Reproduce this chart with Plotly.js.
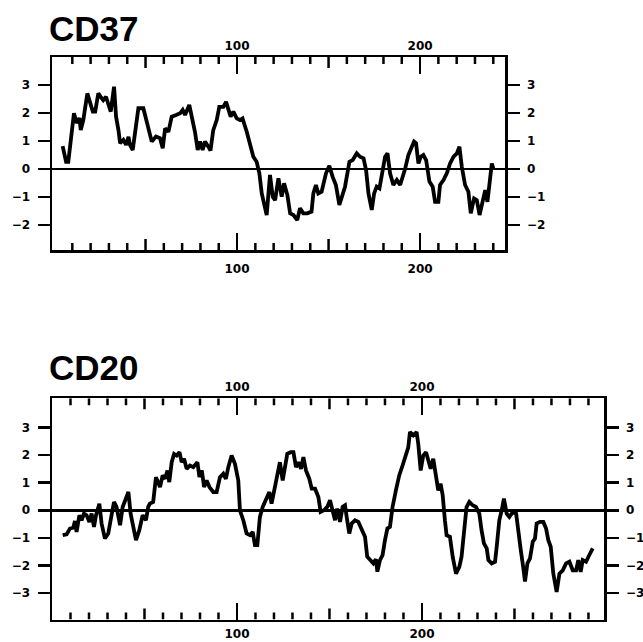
<!DOCTYPE html>
<html>
<head>
<meta charset="utf-8">
<script src="https://cdn.plot.ly/plotly-3.0.1.min.js"></script>
<style>html,body{margin:0;padding:0;background:#fff;}#chart{width:643px;height:642px;}</style>
</head>
<body>
<div id="chart"></div>
<script>
// ---- Data ----
const panelTitles = ["CD37", "CD20"];

const cd37Pos = [4.7,6.6,7.8,10.9,12.4,13.9,14.6,16,18.2,19.7,21.2,22.5,24.2,25.5,26.9,28.4,29.7,31,32.8,33.9,35.2,36.1,37.9,39.4,40.7,41.5,43,44.8,46.1,48.8,50.3,51.5,53.4,55.7,57.9,59.4,60.7,62.5,64.3,66.7,68.9,70.3,71.6,73.9,75.7,77,78.5,79.8,81.2,82.5,84.3,85.5,87,88.9,90.3,92.5,94,95.3,96.5,98,99.8,101.6,103,105.3,107.1,108.9,110.7,112.2,113.5,114.8,116.2,118,119.5,120.8,122.6,124.4,125.7,127.5,129,130.8,132.9,134.4,136.2,138.4,140.7,141.7,143.1,144.4,146.2,148.6,150.4,152.2,154,155.9,157.7,159,161.4,163.2,165.4,167.2,169.1,170.5,171.8,173.6,174.9,176.3,177.8,179.1,180.9,182.2,183.6,185.4,187.3,189.1,190.5,191.8,193.6,195.4,196.7,197.8,199.1,200.4,201.8,203.3,205.1,206.9,208.2,210,210.9,212.8,214.6,216.4,218.3,220.1,221.5,222.8,224.6,226.4,227.7,229.5,231,232.5,234.3,235.6,236.8,238.3,239.2,240.1];
const cd37Hyd = [0.82,0.26,0.26,1.99,1.64,1.82,1.39,1.75,2.70,2.35,2.05,2.05,2.70,2.58,2.46,2.58,2.29,2.05,2.94,1.87,1.39,0.92,1.04,0.86,1.15,0.86,0.68,1.51,2.17,2.17,1.75,1.51,0.98,1.16,1.10,0.74,1.45,1.33,1.87,1.93,1.99,2.11,1.93,2.29,1.81,1.33,0.68,0.98,0.68,0.98,0.80,0.66,1.39,1.75,2.22,2.22,2.40,2.05,1.87,2.05,1.81,1.75,1.81,1.33,0.92,0.44,0.26,-0.15,-0.87,-1.23,-1.64,-0.21,-0.99,-1.11,-0.33,-0.99,-0.51,-0.93,-1.58,-1.64,-1.82,-1.40,-1.58,-1.58,-1.52,-0.87,-0.57,-0.87,-0.81,-0.15,0.12,-0.27,-0.57,-1.28,-0.93,-0.63,0.26,0.32,0.56,0.44,0.38,-0.04,-0.87,-1.46,-0.87,-0.63,-0.69,-0.21,0.44,0.56,-0.15,-0.57,-0.39,-0.57,-0.27,0,0.50,0.74,0.98,0.92,0.20,0.44,0.50,0.32,-0.45,-0.63,-1.17,-1.17,-0.57,-0.39,-0.15,0.20,0.44,0.56,0.80,0.08,-0.57,-0.81,-1.58,-1.05,-1.11,-1.64,-1.11,-0.75,-1.17,-0.27,0.20,0.0];

const cd20Pos = [5.8,7.9,9.7,11.5,12.4,13.3,14.8,16,17.3,18.7,20.2,21.4,22.7,23.8,25.6,26.8,28.6,30.4,31.7,33.5,34.9,36.8,38.2,39.5,41.3,42.5,44,45.4,47.2,49,50.8,52,52.9,54.7,56.2,57.5,58.4,59.8,61.1,62.4,63.4,64.7,66,67.4,68.9,70.1,71.4,72.8,74.6,76.4,78.6,79.7,81,82.2,83.6,85.1,87.2,89,90.8,92.6,94,95.3,97.1,98.9,100.7,101.6,103.4,105.2,107,108.5,109.7,111,112.4,113.9,115.7,117.5,118.7,120.5,121.8,123.2,124.7,125.9,127.2,129,130.5,131.9,133.2,134.6,135.9,137.3,139.1,140.4,142.2,144,145.2,147,148.8,150.3,151.7,153,154.2,155.7,157.1,158.4,159.3,160.7,162,163.8,165.6,167.4,169.2,170.4,171.9,173.7,175.1,175.9,177.3,178.7,180,181.3,182.7,184.1,185.9,187.7,189.5,190.8,192.6,193.5,195.3,197.1,198,199.3,200.7,202.2,203.4,204.7,206.1,207.6,208.8,210.1,211.2,212.4,213.3,215.1,216.6,218.4,220.2,221.4,222.7,224.1,225.6,227.4,229.2,231,232.2,233.5,235,235.9,237.7,239.5,240.4,241.8,243.1,244.3,245.8,247.2,248.5,249.8,250.9,252.1,253.4,254.8,255.7,257,258.4,259.9,261.1,262,263.8,265.6,267.1,268.3,269.6,271,272.8,274.3,276.1,277.9,279.7,281.5,283.3,284.5,285.8,286.9,288.7,290,292.3];
const cd20Hyd = [-0.90,-0.87,-0.66,-0.63,-0.39,-0.78,-0.18,-0.36,-0.12,-0.18,-0.42,-0.12,-0.60,-0.18,0.24,-0.48,-1.02,-0.84,-0.36,0.30,0.12,-0.54,0.12,0.36,0.66,-0.12,-0.72,-1.08,-0.72,-0.18,-0.36,0.12,0.24,0.30,1.20,1.02,0.84,1.26,1.14,1.44,1.02,1.74,2.04,1.98,2.10,1.74,1.86,1.50,1.62,1.56,1.74,1.20,1.44,0.84,1.08,0.84,0.66,0.66,1.20,1.32,1.14,1.56,1.98,1.68,1.08,0.0,-0.36,-0.84,-0.90,-0.78,-1.26,-1.26,-0.24,0.12,0.36,0.66,0.24,0.84,1.32,1.74,1.08,1.56,2.04,2.10,2.10,1.56,1.74,1.50,1.92,1.44,1.14,0.78,0.78,0.48,-0.06,0,0.12,0.36,0,-0.36,0.06,-0.42,0.12,0.18,-0.24,-0.84,-0.48,-0.36,-0.42,-0.72,-0.96,-1.68,-1.80,-1.92,-1.77,-2.22,-1.80,-1.62,-1.08,-0.66,-0.60,0.12,0.72,1.26,1.62,1.92,2.28,2.83,2.71,2.83,2.40,1.44,1.98,2.10,1.74,1.50,1.86,1.32,0.72,0.96,0.54,-0.36,-0.90,-0.96,-1.68,-2.29,-2.05,-1.68,-0.84,0.12,0.30,0.18,0.12,-0.12,-0.72,-1.20,-1.38,-1.80,-1.92,-1.86,-1.32,-0.36,0,0.42,-0.12,-0.24,-0.12,-0.06,-0.12,-0.84,-1.44,-2.10,-2.58,-1.92,-1.74,-1.14,-1.02,-0.48,-0.42,-0.42,-0.66,-1.08,-1.32,-2.29,-2.95,-2.29,-2.17,-1.92,-1.86,-2.17,-2.17,-1.80,-2.23,-1.80,-1.86,-1.68,-1.38];

const xLabelTicks = [100, 200];
const yTicksCD37 = [-2, -1, 0, 1, 2, 3];
const yTicksCD20 = [-3, -2, -1, 0, 1, 2, 3];
const minorStep = 10, mediumStep = 50;

// ---- Layout helpers ----
const W = 643, H = 642;
const tickFont = {family: 'DejaVu Sans', size: 12, color: '#000', weight: 'bold'};
const base = {showline: true, linecolor: '#000', linewidth: 2.5, showgrid: false, zeroline: false,
  fixedrange: true, tickcolor: '#000', tickfont: tickFont};

function stepVals(maxV, step, skipStep) {
  const out = [];
  for (let v = step; v < maxV; v += step) if (!skipStep || v % skipStep !== 0) out.push(v);
  return out;
}
// x axis with long ticks + labels at 100, 200
function xAxis(domain, range, anchor, side, overlay, standoff) {
  const a = Object.assign({}, base, {range: range, anchor: anchor, side: side,
    tickmode: 'array', tickvals: xLabelTicks, ticks: 'inside', ticklen: 17, tickwidth: 2.5,
    ticklabelstandoff: standoff});
  if (overlay) a.overlaying = overlay; else a.domain = domain;
  return a;
}
function yAxis(domain, range, anchor, side, overlay, vals, zero, standoff) {
  const a = Object.assign({}, base, {range: range, anchor: anchor, side: side,
    tickmode: 'array', tickvals: vals, ticks: 'outside', ticklen: 12, tickwidth: 2.5,
    ticklabelstandoff: standoff});
  if (overlay) a.overlaying = overlay; else a.domain = domain;
  if (zero) { a.zeroline = true; a.zerolinecolor = '#000'; a.zerolinewidth = 2.5; }
  return a;
}

const dom37x = [52 / W, 505 / W], dom37y = [1 - 250 / H, 1 - 57 / H];
const dom20x = [52 / W, 604 / W], dom20y = [1 - 619.5 / H, 1 - 398.3 / H];
const r37x = [-1.1, 246.4], r37y = [-2.89, 4.0];
const r20x = [0, 298.4], r20y = [-3.95, 4.05];

// Inside tick marks along the top & bottom frame (every 10, longer every 50),
// drawn as short vertical line segments (separated by gaps) pointing inward from the frame.
function frameTicks(xr, yr, ydom, xa, ya, step, skip, len) {
  const vals = stepVals(xr[1], step, skip);
  const unitsPerPx = (yr[1] - yr[0]) / ((ydom[1] - ydom[0]) * H);
  const d = len * unitsPerPx;
  const xs = [], ys = [];
  vals.forEach(v => { xs.push(v, v, null); ys.push(yr[0], yr[0] + d, null); });
  vals.forEach(v => { xs.push(v, v, null); ys.push(yr[1], yr[1] - d, null); });
  return {x: xs, y: ys, xaxis: xa, yaxis: ya, type: 'scatter', mode: 'lines', connectgaps: false,
    line: {color: '#000', width: 2.5}, hoverinfo: 'skip', showlegend: false};
}

const mainLine = {color: '#000', width: 3.8};
function ghost(x, y, xa, ya) {
  return {x: x, y: y, xaxis: xa, yaxis: ya, type: 'scatter', mode: 'lines',
    line: {color: 'rgba(0,0,0,0)', width: 1}, hoverinfo: 'skip', showlegend: false};
}

const traces = [
  frameTicks(r37x, r37y, dom37y, 'x', 'y', minorStep, mediumStep, 7),
  frameTicks(r37x, r37y, dom37y, 'x', 'y', mediumStep, 100, 11),
  {x: cd37Pos, y: cd37Hyd, xaxis: 'x', yaxis: 'y', type: 'scatter', mode: 'lines', line: mainLine, showlegend: false},
  ghost(cd37Pos, cd37Hyd, 'x2', 'y2'),
  frameTicks(r20x, r20y, dom20y, 'x3', 'y3', minorStep, mediumStep, 7),
  frameTicks(r20x, r20y, dom20y, 'x3', 'y3', mediumStep, 100, 11),
  {x: cd20Pos, y: cd20Hyd, xaxis: 'x3', yaxis: 'y3', type: 'scatter', mode: 'lines', line: mainLine, showlegend: false},
  ghost(cd20Pos, cd20Hyd, 'x4', 'y4')
];

const layout = {
  width: W, height: H, margin: {l: 0, r: 0, t: 0, b: 0},
  paper_bgcolor: '#fff', plot_bgcolor: 'rgba(0,0,0,0)', showlegend: false,
  // CD37 panel
  xaxis: xAxis(dom37x, r37x, 'y', 'bottom', null, 6),
  xaxis2: xAxis(null, r37x, 'y', 'top', 'x', 0),
  yaxis: yAxis(dom37y, r37y, 'x', 'left', null, yTicksCD37, true, 5),
  yaxis2: yAxis(null, r37y, 'x', 'right', 'y', yTicksCD37, false, 5),
  // CD20 panel
  xaxis3: xAxis(dom20x, r20x, 'y3', 'bottom', null, 2),
  xaxis4: xAxis(null, r20x, 'y3', 'top', 'x3', 0),
  yaxis3: yAxis(dom20y, r20y, 'x3', 'left', null, yTicksCD20, true, 5),
  yaxis4: yAxis(null, r20y, 'x3', 'right', 'y3', yTicksCD20, false, 5),
  annotations: [
    {text: panelTitles[0], xref: 'paper', yref: 'paper', x: 47 / W, y: 1 - 7 / H, xanchor: 'left', yanchor: 'top',
      showarrow: false, font: {family: 'Liberation Sans', size: 35, color: '#000', weight: 'bold'}},
    {text: panelTitles[1], xref: 'paper', yref: 'paper', x: 47 / W, y: 1 - 346 / H, xanchor: 'left', yanchor: 'top',
      showarrow: false, font: {family: 'Liberation Sans', size: 35, color: '#000', weight: 'bold'}}
  ]
};

Plotly.newPlot('chart', traces, layout, {staticPlot: true, displayModeBar: false});
</script>
</body>
</html>
